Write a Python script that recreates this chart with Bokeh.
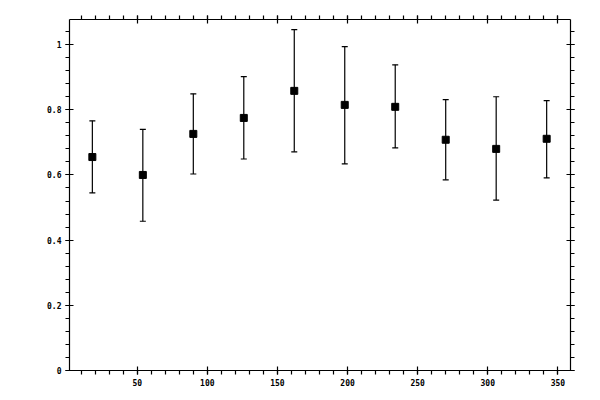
from bokeh.plotting import figure
from bokeh.models import (ColumnDataSource, LinearAxis, Range1d, SingleIntervalTicker,
                          Whisker, TeeHead, CustomJSTickFormatter)
from bokeh.embed import file_html
from bokeh.resources import INLINE

# bin centres (degrees) with measured values and error limits
angle = [18, 54, 90, 126, 162, 198, 234, 270, 306, 342]
ratio = [0.655, 0.600, 0.726, 0.775, 0.858, 0.815, 0.809, 0.708, 0.680, 0.711]
low = [0.545, 0.458, 0.603, 0.649, 0.671, 0.634, 0.683, 0.585, 0.523, 0.591]
high = [0.766, 0.740, 0.849, 0.902, 1.046, 0.994, 0.938, 0.831, 0.840, 0.828]

source = ColumnDataSource(dict(angle=angle, ratio=ratio, low=low, high=high))

FONT = "DejaVu Sans Mono"

p = figure(width=592, height=392, output_backend="svg", toolbar_location=None, tools="",
           x_range=Range1d(1.7, 359), y_range=Range1d(0, 1.077),
           x_axis_location=None, y_axis_location=None,
           min_border_left=69, min_border_right=22, min_border_top=19, min_border_bottom=22)
p.xgrid.grid_line_color = None
p.ygrid.grid_line_color = None
p.outline_line_color = None

yfmt = CustomJSTickFormatter(code="return String(Math.round(tick*100)/100);")


def style(ax, labels):
    ax.axis_line_color = "black"
    ax.axis_line_width = 1.2
    ax.major_tick_line_color = "black"
    ax.minor_tick_line_color = "black"
    ax.major_tick_line_width = 1.2
    ax.minor_tick_line_width = 1.2
    ax.major_tick_in = 4
    ax.major_tick_out = 4
    ax.minor_tick_in = 0
    ax.minor_tick_out = 4
    ax.major_label_standoff = 4
    ax.major_label_text_font = FONT
    ax.major_label_text_font_size = "8px"
    ax.major_label_text_font_style = "bold"
    ax.major_label_text_color = "black" if labels else None


for side in ["below", "above"]:
    ax = LinearAxis(ticker=SingleIntervalTicker(interval=50, num_minor_ticks=5))
    style(ax, side == "below")
    p.add_layout(ax, side)

for side in ["left", "right"]:
    ax = LinearAxis(ticker=SingleIntervalTicker(interval=0.2, num_minor_ticks=5), formatter=yfmt)
    style(ax, side == "left")
    p.add_layout(ax, side)

p.add_layout(Whisker(source=source, base="angle", lower="low", upper="high",
                     line_color="black", line_width=1.2,
                     upper_head=TeeHead(size=6, line_color="black", line_width=1.2),
                     lower_head=TeeHead(size=6, line_color="black", line_width=1.2)))
p.scatter("angle", "ratio", source=source, marker="square", size=7,
          fill_color="black", line_color="black")

open("out.html", "w").write(file_html(p, INLINE))
